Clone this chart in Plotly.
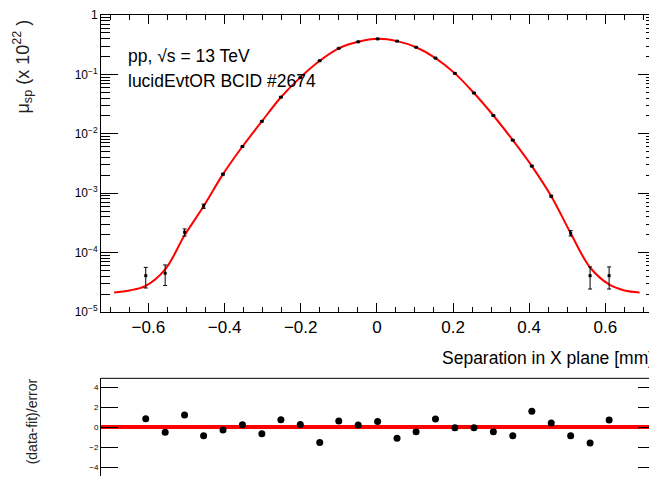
import plotly.graph_objects as go

# ---- data ----
sep_x = [-0.607, -0.556, -0.505, -0.455, -0.404, -0.353, -0.302, -0.252, -0.201,
         -0.150, -0.100, -0.049, 0.002, 0.053, 0.103, 0.154, 0.205, 0.255,
         0.306, 0.357, 0.407, 0.458, 0.509, 0.560, 0.610]
mu_sp = [4.08e-5, 4.48e-5, 2.20e-4, 6.04e-4, 2.09e-3, 6.1e-3, 1.62e-2, 4.13e-2, 0.088,
         0.170, 0.275, 0.354, 0.396, 0.363, 0.286, 0.188, 0.104, 0.0486,
         0.0203, 7.8e-3, 2.86e-3, 8.89e-4, 2.12e-4, 4.08e-5, 4.08e-5]
mu_err = [1.55e-5, 1.7e-5, 0.3e-4, 0.5e-4, 0.06e-3, 0.12e-3, 0.3e-3, 0.6e-3, 0.0012,
          0.002, 0.003, 0.004, 0.004, 0.004, 0.003, 0.002, 0.0013, 0.0007,
          0.0003, 0.14e-3, 0.07e-3, 0.3e-4, 0.22e-4, 1.65e-5, 1.65e-5]

fit_x = [-0.69, -0.65, -0.607, -0.556, -0.505, -0.455, -0.404, -0.353, -0.302, -0.252,
         -0.201, -0.150, -0.100, -0.049, 0.002, 0.053, 0.103, 0.154, 0.205, 0.255,
         0.306, 0.357, 0.407, 0.458, 0.509, 0.560, 0.610, 0.65, 0.69]
fit_y = [2.13e-5, 2.3e-5, 2.75e-5, 5.2e-5, 1.95e-4, 6.0e-4, 2.09e-3, 6.1e-3, 1.62e-2, 4.12e-2,
         0.089, 0.170, 0.275, 0.355, 0.398, 0.363, 0.286, 0.188, 0.104, 0.0486,
         0.0203, 7.8e-3, 2.86e-3, 8.9e-4, 2.12e-4, 5.6e-5, 2.9e-5, 2.3e-5, 2.13e-5]

residual = [0.88, -0.49, 1.24, -0.82, -0.26, 0.26, -0.62, 0.78, 0.29, -1.51,
            0.65, 0.25, 0.59, -1.08, -0.43, 0.84, -0.04, -0.04, -0.43, -0.82,
            1.63, 0.45, -0.82, -1.57, 0.75]

y_tick_vals = [1e-5, 1e-4, 1e-3, 1e-2, 1e-1, 1]
y_tick_text = ["10<sup>−5</sup>", "10<sup>−4</sup>", "10<sup>−3</sup>",
               "10<sup>−2</sup>", "10<sup>−1</sup>", "1"]
res_tick_vals = [-4, -2, 0, 2, 4]

FONT = "Liberation Sans, Arial, sans-serif"

minor_log = []
for d in range(-5, 0):
    for k in range(2, 10):
        minor_log.append(k * 10 ** d)

fig = go.Figure()
fig.add_trace(go.Scatter(x=fit_x, y=fit_y, mode="lines",
                         line=dict(color="#ff0000", width=2, shape="spline", smoothing=1.0),
                         xaxis="x", yaxis="y", hoverinfo="skip"))
fig.add_trace(go.Scatter(x=sep_x, y=mu_sp, mode="markers",
                         marker=dict(color="black", size=3, symbol="square"),
                         error_y=dict(type="data", array=mu_err, color="black",
                                      thickness=1, width=2),
                         xaxis="x", yaxis="y"))
fig.add_trace(go.Scatter(x=sep_x, y=residual, mode="markers",
                         marker=dict(color="black", size=7),
                         xaxis="x2", yaxis="y2"))

# page body has an 8px margin: figure sits 8px right and 8px down in the page;
# the lower panel runs on past the bottom of the window, as in the reference
top_bottom = 0.3559
fig.update_layout(
    width=649, height=475,
    margin=dict(l=93, r=2, t=3, b=0),
    paper_bgcolor="white", plot_bgcolor="white",
    showlegend=False,
    font=dict(family=FONT, color="black"),
    xaxis=dict(domain=[0, 1], anchor="y", range=[-0.7245, 0.7305],
               tick0=0, dtick=0.2, ticks="inside", ticklen=9, tickcolor="black",
               showline=True, linecolor="black", linewidth=1, mirror="allticks",
               showgrid=False, zeroline=False,
               tickfont=dict(size=17, family=FONT, color="black"),
               minor=dict(tick0=0, dtick=0.05, ticks="inside", ticklen=5,
                          tickcolor="black", showgrid=False)),
    yaxis=dict(domain=[top_bottom, 1], anchor="x", type="log", range=[-5, 0],
               tickvals=y_tick_vals, ticktext=y_tick_text, ticklabeloverflow="allow",
               ticks="inside", ticklen=17, tickcolor="black",
               showline=True, linecolor="black", linewidth=1, mirror="allticks",
               showgrid=False, zeroline=False,
               tickfont=dict(size=12, family=FONT, color="black"),
               minor=dict(tickvals=minor_log, ticks="inside", ticklen=9,
                          tickcolor="black", showgrid=False)),
    xaxis2=dict(domain=[0, 1], anchor="y2", matches="x",
                showticklabels=False, ticks="", showline=False,
                showgrid=False, zeroline=False),
    yaxis2=dict(domain=[0, 0.2119], anchor="x2", range=[-4.87, 4.93],
                tickvals=res_tick_vals, ticks="inside", ticklen=17, tickcolor="black",
                showline=True, linecolor="black", linewidth=1, mirror="allticks",
                showgrid=False, zeroline=True, zerolinecolor="#ff0000",
                zerolinewidth=4,
                tickfont=dict(size=8, family=FONT, color="black")),
    shapes=[dict(type="line", xref="paper", yref="y2 domain",
                 x0=0, x1=1, y0=1, y1=1, line=dict(color="black", width=1))],
    annotations=[
        dict(text="μ<sub>sp</sub> (x 10<sup>22</sup> )", xref="paper", yref="paper",
             x=-0.142, y=0.889, xanchor="center", yanchor="middle",
             textangle=-90, showarrow=False, font=dict(size=18, family=FONT, color="#222")),
        dict(text="(data-fit)/error", xref="paper", yref="paper",
             x=-0.1245, y=0.1186, xanchor="center", yanchor="middle",
             textangle=-90, showarrow=False, font=dict(size=14, family=FONT, color="#222")),
        dict(text="Separation in X plane [mm]", xref="paper", yref="paper",
             x=1, y=0.2564, xanchor="right", yanchor="middle",
             showarrow=False, font=dict(size=17.5, family=FONT, color="black")),
        dict(text="pp, √s = 13 TeV", xref="paper", yref="paper",
             x=0.0451, y=0.911, xanchor="left", yanchor="middle",
             showarrow=False, font=dict(size=17.5, family=FONT, color="black")),
        dict(text="lucidEvtOR BCID #2674", xref="paper", yref="paper",
             x=0.0451, y=0.856, xanchor="left", yanchor="middle",
             showarrow=False, font=dict(size=17.5, family=FONT, color="black")),
    ],
)

fig.write_html("out.html")
